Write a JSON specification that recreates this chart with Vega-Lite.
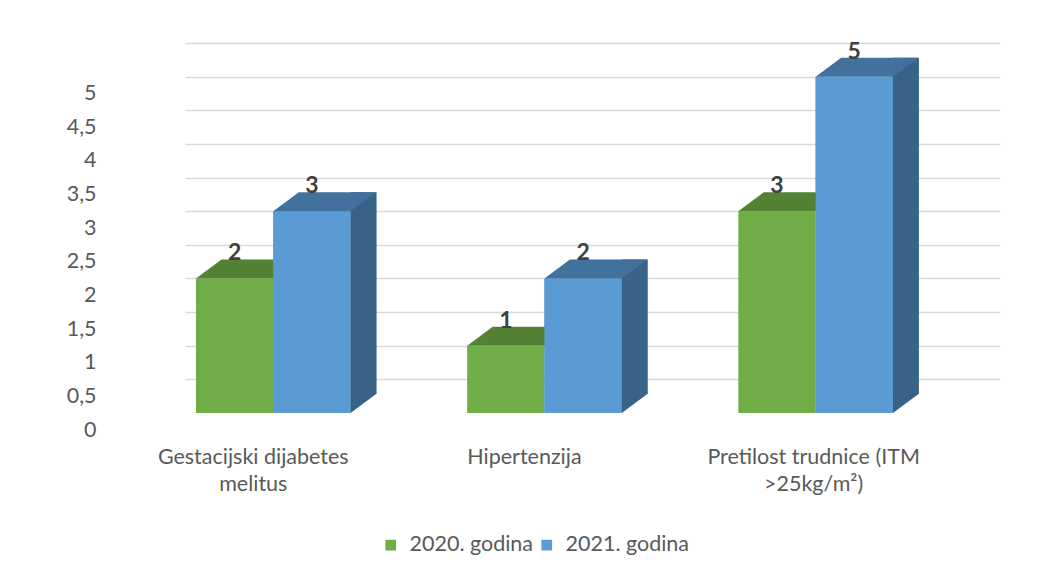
{
  "$schema": "https://vega.github.io/schema/vega-lite/v6.json",
  "width": 815,
  "height": 370,
  "autosize": {"type": "none"},
  "padding": {"left": 185, "top": 43, "right": 63, "bottom": 167},
  "background": "white",
  "config": {
    "view": {"stroke": null},
    "font": "Lato",
    "axis": {"labelFont": "Lato", "labelFontSize": 21.5, "labelColor": "#595959", "title": null, "labelLimit": 400},
    "legend": {"labelFont": "Lato"}
  },
  "data": {
    "values": [
      {"kategorija": "Gestacijski dijabetes melitus", "godina": "2020. godina", "broj": 2},
      {"kategorija": "Gestacijski dijabetes melitus", "godina": "2021. godina", "broj": 3},
      {"kategorija": "Hipertenzija", "godina": "2020. godina", "broj": 1},
      {"kategorija": "Hipertenzija", "godina": "2021. godina", "broj": 2},
      {"kategorija": "Pretilost trudnice (ITM >25kg/m²)", "godina": "2020. godina", "broj": 3},
      {"kategorija": "Pretilost trudnice (ITM >25kg/m²)", "godina": "2021. godina", "broj": 5}
    ]
  },
  "encoding": {
    "x": {
      "field": "kategorija",
      "type": "nominal",
      "sort": null,
      "scale": {"paddingInner": 0.43, "paddingOuter": 0.2177, "align": 0.093},
      "axis": {
        "labelAngle": 0,
        "domain": false,
        "ticks": false,
        "grid": false,
        "labelPadding": 33,
        "labelLineHeight": 27,
        "labelLimit": 400,
        "labelOffset": {"condition": {"test": "datum.value == 'Pretilost trudnice (ITM >25kg/m²)'", "value": -2}, "value": -20},
        "labelExpr": "datum.value == 'Gestacijski dijabetes melitus' ? ['Gestacijski dijabetes', 'melitus'] : datum.value == 'Pretilost trudnice (ITM >25kg/m²)' ? ['Pretilost trudnice (ITM', '>25kg/m²)'] : datum.label"
      }
    },
    "y": {
      "field": "broj",
      "type": "quantitative",
      "scale": {"domain": [0, 5.5], "nice": false},
      "axis": {
        "values": [0, 0.5, 1, 1.5, 2, 2.5, 3, 3.5, 4, 4.5, 5, 5.5],
        "offset": 85,
        "labelPadding": 4,
        "labelOffset": 17,
        "ticks": false,
        "domain": false,
        "grid": true,
        "gridWidth": 1.5,
        "gridColor": {"condition": {"test": "datum.value === 0", "value": "transparent"}, "value": "#d9d9d9"},
        "labelExpr": "datum.value >= 5.5 ? '' : replace(toString(datum.value), '.', ',')"
      }
    }
  },
  "layer": [
    {
      "mark": {"type": "bar"},
      "encoding": {
        "xOffset": {"field": "godina", "type": "nominal", "scale": {"paddingInner": 0, "paddingOuter": 0}},
        "color": {
          "field": "godina",
          "type": "nominal",
          "scale": {"domain": ["2020. godina", "2021. godina"], "range": ["#70AD47", "#5B9BD5"]},
          "legend": {
            "orient": "none",
            "legendX": 195,
            "legendY": 491,
            "direction": "horizontal",
            "title": null,
            "symbolType": "square",
            "symbolSize": 115,
            "symbolStrokeWidth": 0,
            "labelFontSize": 21.5,
            "labelColor": "#595959",
            "columnPadding": 2,
            "labelOffset": 8
          }
        }
      }
    },
    {
      "transform": [{"filter": "datum.godina == '2020. godina'"}],
      "mark": {"type": "point", "filled": true, "strokeWidth": 0, "opacity": 1, "color": "#548235", "size": 5975, "shape": "M -1 0 L 1 0 L 1.66 -0.49 L -0.34 -0.49 Z"},
      "encoding": {
        "xOffset": {"field": "godina", "type": "nominal", "scale": {"domain": ["2020. godina", "2021. godina"], "paddingInner": 0, "paddingOuter": 0}}
      }
    },
    {
      "transform": [{"filter": "datum.godina == '2021. godina'"}],
      "mark": {"type": "bar", "color": "#5B9BD5"},
      "encoding": {
        "xOffset": {"field": "godina", "type": "nominal", "scale": {"domain": ["2020. godina", "2021. godina"], "paddingInner": 0, "paddingOuter": 0}}
      }
    },
    {
      "transform": [{"filter": "datum.godina == '2021. godina'"}],
      "mark": {"type": "bar", "color": "#386287", "width": 26, "xOffset": 90.3, "yOffset": -19},
      "encoding": {}
    },
    {
      "transform": [{"filter": "datum.godina == '2021. godina'"}],
      "mark": {"type": "point", "filled": true, "strokeWidth": 0, "opacity": 1, "color": "#386287", "size": 676, "xOffset": 90.3, "shape": "M -1 -1.5 L -1 0 L 1.02 -1.5 Z"},
      "encoding": {"y": {"datum": 0}}
    },
    {
      "transform": [{"filter": "datum.godina == '2021. godina'"}],
      "mark": {"type": "point", "filled": true, "strokeWidth": 0, "opacity": 1, "color": "#41719C", "size": 5975, "shape": "M -1 0 L 1 0 L 1.66 -0.49 L -0.34 -0.49 Z"},
      "encoding": {
        "xOffset": {"field": "godina", "type": "nominal", "scale": {"domain": ["2020. godina", "2021. godina"], "paddingInner": 0, "paddingOuter": 0}}
      }
    },
    {
      "mark": {"type": "text", "baseline": "middle", "dy": -25, "fontSize": 23, "fontWeight": "bold", "color": "#404040", "font": "Lato"},
      "encoding": {
        "xOffset": {"field": "godina", "type": "nominal", "scale": {"domain": ["2020. godina", "2021. godina"], "paddingInner": 0, "paddingOuter": 0}},
        "text": {"field": "broj", "type": "quantitative"}
      }
    }
  ]
}
